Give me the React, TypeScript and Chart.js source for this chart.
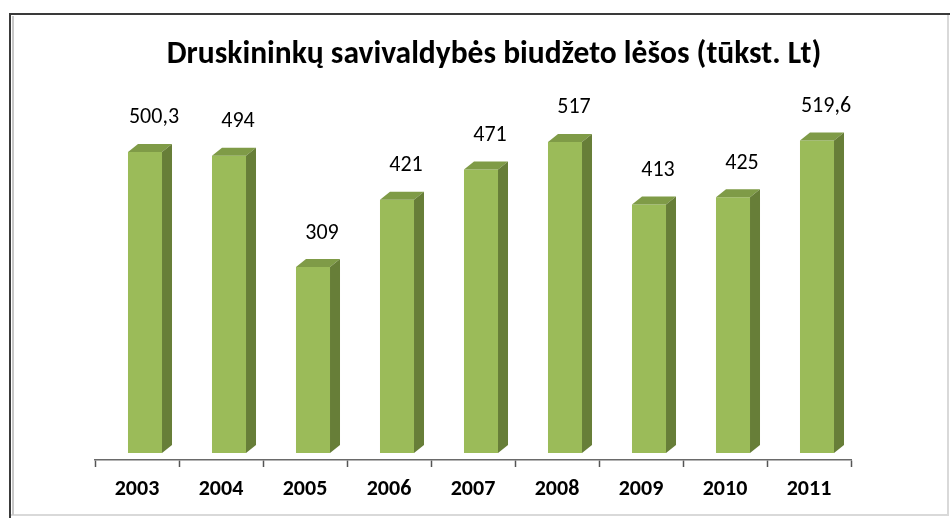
import React, { useEffect, useRef } from "react";
import { Chart, registerables } from "chart.js";

Chart.register(...registerables);

const title = "Druskininkų savivaldybės biudžeto lėšos (tūkst. Lt)";
const categories = ["2003", "2004", "2005", "2006", "2007", "2008", "2009", "2010", "2011"];
const values = [500.3, 494, 309, 421, 471, 517, 413, 425, 519.6];
const yMin = -11.6;
const yMax = 600;

const FONT = '"Carlito", "Liberation Sans Narrow", "Open Sans", sans-serif';
const FRONT = "#9bbb59";
const TOP = "#7f9b47";
const SIDE = "#677e38";
const DX = 10;
const DY = 8;
const SHIFT = 8;

const fmt = (v: number) => String(v).replace(".", ",");

const framePlugin = {
  id: "frame",
  beforeDraw(chart: any) {
    const ctx = chart.ctx;
    ctx.save();
    ctx.fillStyle = "#ffffff";
    ctx.fillRect(0, 0, chart.width, chart.height);
    ctx.strokeStyle = "#d9d9d9";
    ctx.lineWidth = 2;
    ctx.beginPath();
    ctx.moveTo(948, 14);
    ctx.lineTo(948, 515);
    ctx.lineTo(10, 515);
    ctx.stroke();
    ctx.strokeStyle = "#c8c8c8";
    ctx.lineWidth = 2;
    ctx.beginPath();
    ctx.moveTo(13, 16);
    ctx.lineTo(13, 515);
    ctx.stroke();
    ctx.strokeStyle = "#3a3a3a";
    ctx.lineWidth = 2;
    ctx.beginPath();
    ctx.moveTo(10, 518);
    ctx.lineTo(10, 14);
    ctx.lineTo(950, 14);
    ctx.stroke();
    ctx.fillStyle = "#000000";
    ctx.font = `bold 31.5px ${FONT}`;
    ctx.textAlign = "center";
    ctx.textBaseline = "middle";
    ctx.fillText(title, 494, 55);
    ctx.restore();
  },
};

const bar3dPlugin = {
  id: "bar3d",
  beforeDatasetsDraw(chart: any) {
    chart.ctx.save();
    chart.ctx.translate(SHIFT, 0);
  },
  afterDatasetsDraw(chart: any) {
    const ctx = chart.ctx;
    const meta = chart.getDatasetMeta(0);
    meta.data.forEach((el: any, i: number) => {
      const { x, y, base, width } = el.getProps(["x", "y", "base", "width"], true);
      const l = x - width / 2;
      const r = x + width / 2;
      ctx.fillStyle = TOP;
      ctx.beginPath();
      ctx.moveTo(l, y);
      ctx.lineTo(l + DX, y - DY);
      ctx.lineTo(r + DX, y - DY);
      ctx.lineTo(r, y);
      ctx.closePath();
      ctx.fill();
      ctx.fillStyle = SIDE;
      ctx.beginPath();
      ctx.moveTo(r, y);
      ctx.lineTo(r + DX, y - DY);
      ctx.lineTo(r + DX, base - DY);
      ctx.lineTo(r, base);
      ctx.closePath();
      ctx.fill();
      ctx.fillStyle = "#000000";
      ctx.font = `22px ${FONT}`;
      ctx.textAlign = "center";
      ctx.textBaseline = "middle";
      ctx.fillText(fmt(values[i]), x + 9, y - 34);
    });
    ctx.restore();
  },
};

export default function App() {
  const ref = useRef<HTMLCanvasElement | null>(null);
  useEffect(() => {
    document.body.style.margin = "0";
    const canvas = ref.current!;
    const chart = new Chart(canvas, {
      type: "bar",
      data: {
        labels: categories,
        datasets: [
          {
            data: values,
            backgroundColor: FRONT,
            borderWidth: 0,
            categoryPercentage: 1,
            barPercentage: 0.405,
          },
        ],
      },
      options: {
        animation: false,
        responsive: false,
        maintainAspectRatio: false,
        layout: { padding: { left: 95, right: 99, top: 92, bottom: 6.6 } },
        plugins: {
          legend: { display: false },
          title: { display: false },
          tooltip: { enabled: false },
        },
        scales: {
          x: {
            offset: true,
            grid: {
              offset: true,
              drawOnChartArea: false,
              drawTicks: true,
              tickLength: 7,
              tickWidth: 1.5,
              tickColor: "#555555",
            },
            border: { display: true, color: "#6a6a6a", width: 1.5 },
            ticks: {
              color: "#000000",
              padding: 9,
              font: { family: FONT, size: 22, weight: "bold" },
            },
          },
          y: {
            display: false,
            min: yMin,
            max: yMax,
          },
        },
      },
      plugins: [framePlugin, bar3dPlugin],
    });
    return () => chart.destroy();
  }, []);
  return (
    <div style={{ position: "fixed", left: 0, top: 0, width: 950, height: 518 }}>
      <canvas ref={ref} width={950} height={518} />
    </div>
  );
}
